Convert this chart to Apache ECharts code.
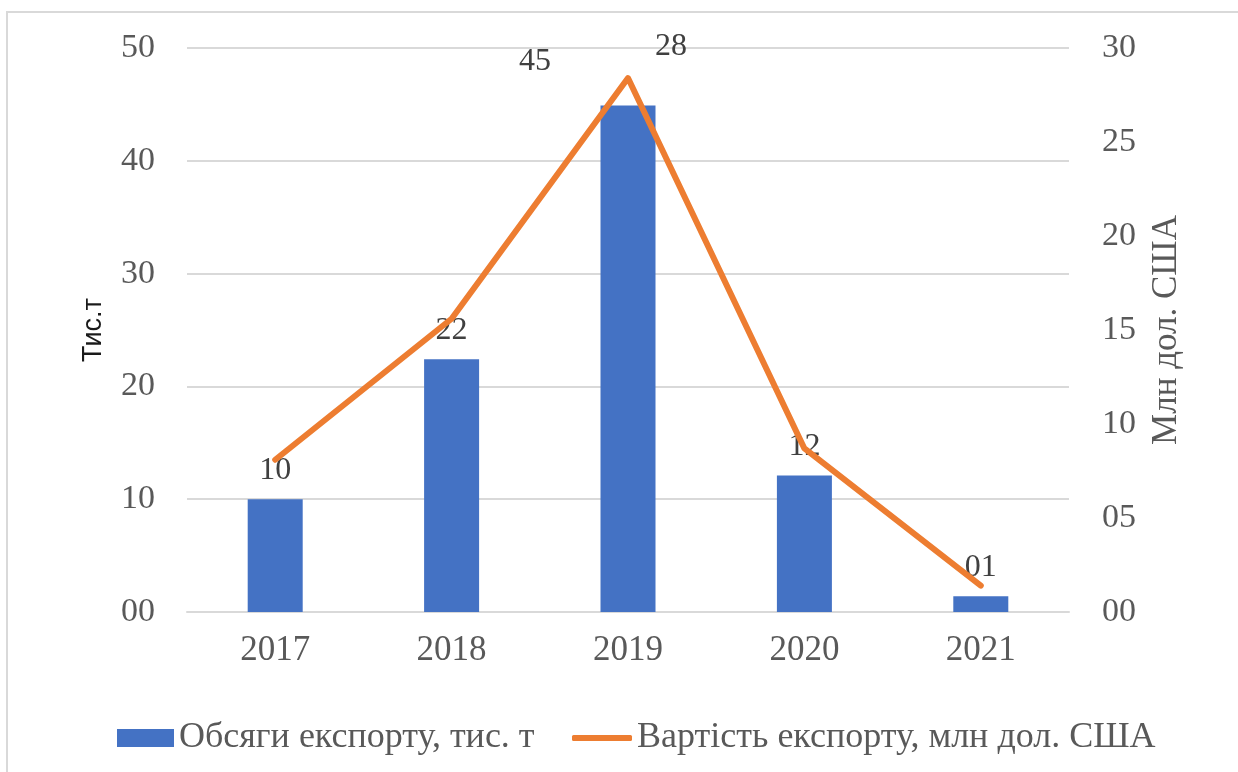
<!DOCTYPE html>
<html>
<head>
<meta charset="utf-8">
<script src="https://cdn.jsdelivr.net/npm/echarts@6/dist/echarts.min.js"></script>
<style>
  html, body { margin: 0; padding: 0; background: #fff; }
  #chart { width: 1238px; height: 772px; }
</style>
</head>
<body>
<div id="chart"></div>
<script>
// years on the x axis
const years = ['2017', '2018', '2019', '2020', '2021']
// export volume, thousand tonnes (left axis)
const volume = [10.0, 22.4, 44.9, 12.1, 1.4]
// export value, mln USD (right axis)
const value = [8.1, 15.6, 28.4, 8.7, 1.4]

const barName = 'Обсяги експорту, тис. т'
const lineName = 'Вартість експорту, млн дол. США'

const serif = 'Liberation Serif, Times New Roman, serif'
const grey = '#595959'
// Excel-ish "00" number format
const fmt2 = (v) => String(Math.round(v)).padStart(2, '0')

const chart = echarts.init(document.getElementById('chart'))

const legendText = { fontFamily: serif, fontSize: 36, color: grey }

chart.setOption({
  animation: false,
  graphic: [{
    type: 'rect',
    shape: { x: 7, y: 12, width: 1300, height: 820 },
    style: { fill: 'none', stroke: '#D9D9D9', lineWidth: 2 },
    silent: true
  }],
  grid: { left: 187, right: 169, top: 48, bottom: 160 },
  legend: [{
    left: 112,
    top: 715,
    itemWidth: 57,
    itemHeight: 18,
    textStyle: legendText,
    data: [{ name: barName, icon: 'rect' }]
  }, {
    left: 567,
    top: 715,
    itemWidth: 60,
    itemHeight: 6,
    textStyle: legendText,
    data: [{ name: lineName, icon: 'roundRect' }]
  }],
  xAxis: {
    type: 'category',
    data: years,
    axisLine: { lineStyle: { color: '#D9D9D9', width: 2 } },
    axisTick: { show: false },
    axisLabel: { fontFamily: serif, fontSize: 35, color: grey, margin: 21 }
  },
  yAxis: [{
    type: 'value',
    min: 0,
    max: 50,
    interval: 10,
    name: 'Тис.т',
    nameLocation: 'middle',
    nameRotate: 90,
    nameGap: 80,
    nameTextStyle: { fontFamily: 'Liberation Sans, Arial, sans-serif', fontSize: 27, color: '#1a1a1a' },
    axisLine: { show: false },
    axisTick: { show: false },
    splitLine: { lineStyle: { color: '#D9D9D9', width: 2 } },
    axisLabel: { fontFamily: serif, fontSize: 34, color: grey, margin: 32, formatter: fmt2 }
  }, {
    type: 'value',
    min: 0,
    max: 30,
    interval: 5,
    name: 'Млн дол. США',
    nameLocation: 'middle',
    nameRotate: 90,
    nameGap: 80,
    nameTextStyle: { fontFamily: serif, fontSize: 35, color: grey },
    axisLine: { show: false },
    axisTick: { show: false },
    splitLine: { show: false },
    axisLabel: { fontFamily: serif, fontSize: 34, color: grey, margin: 33, formatter: fmt2 }
  }],
  series: [{
    name: barName,
    type: 'bar',
    barWidth: 55,
    itemStyle: { color: '#4472C4' },
    label: {
      show: true,
      position: 'top',
      distance: 13,
      fontFamily: serif,
      fontSize: 32,
      color: '#404040',
      formatter: (p) => fmt2(p.value)
    },
    data: volume.map((v, i) => i === 2
      ? { value: v, label: { offset: [-93, -15] } }
      : v)
  }, {
    name: lineName,
    type: 'line',
    yAxisIndex: 1,
    symbol: 'circle',
    symbolSize: 0,
    showSymbol: true,
    z: 3,
    lineStyle: { color: '#ED7D31', width: 6, cap: 'round', join: 'round' },
    itemStyle: { color: '#ED7D31' },
    data: value.map((v, i) => i === 2
      ? {
          value: v,
          label: {
            show: true,
            position: 'top',
            fontFamily: serif,
            fontSize: 32,
            color: '#404040',
            offset: [43, -10],
            formatter: (p) => fmt2(p.value)
          }
        }
      : v)
  }]
})
</script>
</body>
</html>
